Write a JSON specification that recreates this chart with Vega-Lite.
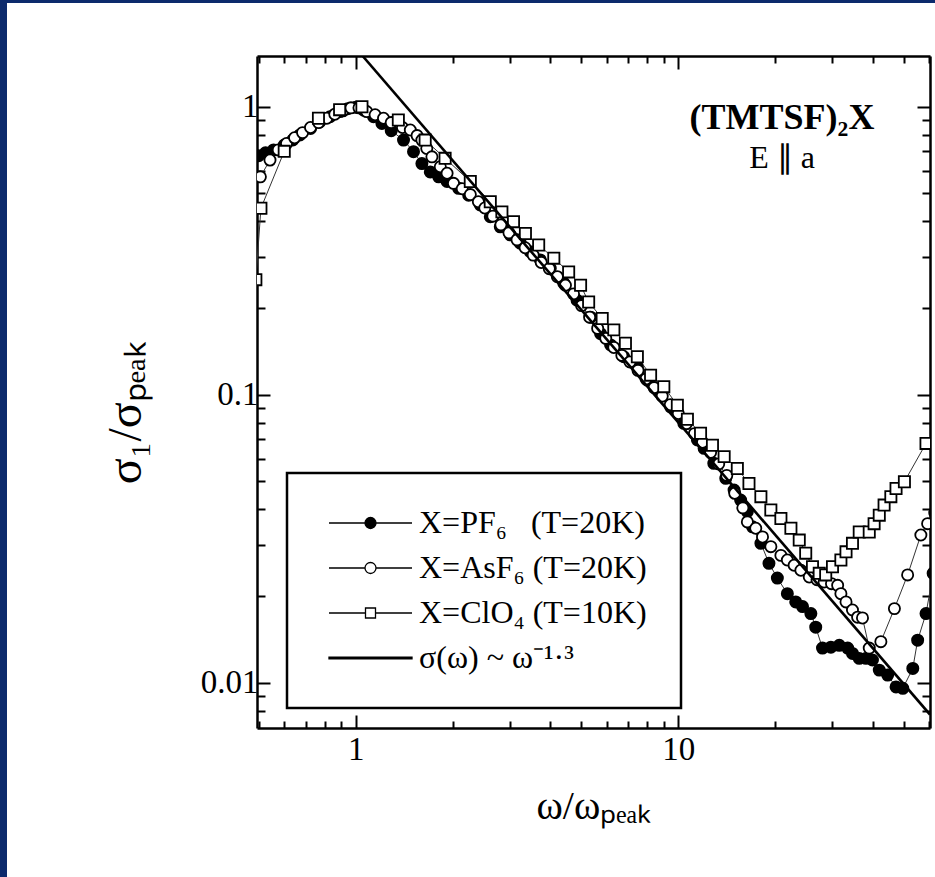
{
  "$schema": "https://vega.github.io/schema/vega-lite/v6.json",
  "width": 673,
  "height": 672,
  "autosize": {"type": "none"},
  "padding": {"left": 257, "top": 56, "right": 5, "bottom": 149},
  "background": "#0c2a6c",
  "config": {
    "view": {
      "fill": "white",
      "stroke": {"gradient": "linear", "x1": 0, "y1": -0.0833, "x2": 0, "y2": 1, "stops": [{"offset": 0, "color": "#0c2a6c"}, {"offset": 0.0041, "color": "#0c2a6c"}, {"offset": 0.0042, "color": "white"}, {"offset": 1, "color": "white"}]},
      "strokeWidth": 500
    },
    "font": "Liberation Serif",
    "legend": {"strokeWidth": 2.5}
  },
  "title": {
    "text": "(TMTSF)₂X",
    "subtitle": "E ∥ a",
    "anchor": "end",
    "align": "center",
    "dx": -148,
    "offset": -120,
    "font": "Liberation Serif",
    "fontSize": 36,
    "fontWeight": "bold",
    "color": "black",
    "subtitleFont": "Liberation Serif",
    "subtitleFontSize": 32,
    "subtitleColor": "black",
    "subtitlePadding": 6,
    "frame": "group"
  },
  "datasets": {
    "pts": [
      {"s": "PF6", "x": 0.5, "y": 0.676}, {"s": "PF6", "x": 0.525, "y": 0.692}, {"s": "PF6", "x": 0.556, "y": 0.708}, {"s": "PF6", "x": 0.6, "y": 0.736}, {"s": "PF6", "x": 0.638, "y": 0.767}, {"s": "PF6", "x": 0.671, "y": 0.798}, {"s": "PF6", "x": 0.724, "y": 0.841}, {"s": "PF6", "x": 0.774, "y": 0.887}, {"s": "PF6", "x": 0.832, "y": 0.923}, {"s": "PF6", "x": 0.893, "y": 0.962}, {"s": "PF6", "x": 0.944, "y": 0.984}, {"s": "PF6", "x": 1.0, "y": 0.995}, {"s": "PF6", "x": 1.059, "y": 0.973}, {"s": "PF6", "x": 1.135, "y": 0.923}, {"s": "PF6", "x": 1.205, "y": 0.875}, {"s": "PF6", "x": 1.288, "y": 0.826}, {"s": "PF6", "x": 1.406, "y": 0.766}, {"s": "PF6", "x": 1.51, "y": 0.698}, {"s": "PF6", "x": 1.603, "y": 0.635}, {"s": "PF6", "x": 1.702, "y": 0.594}, {"s": "PF6", "x": 1.807, "y": 0.571}, {"s": "PF6", "x": 1.919, "y": 0.55}, {"s": "PF6", "x": 2.084, "y": 0.521}, {"s": "PF6", "x": 2.239, "y": 0.493}, {"s": "PF6", "x": 2.432, "y": 0.456}, {"s": "PF6", "x": 2.612, "y": 0.415}, {"s": "PF6", "x": 2.805, "y": 0.383}, {"s": "PF6", "x": 3.013, "y": 0.359}, {"s": "PF6", "x": 3.236, "y": 0.336}, {"s": "PF6", "x": 3.475, "y": 0.314}, {"s": "PF6", "x": 3.733, "y": 0.294}, {"s": "PF6", "x": 4.009, "y": 0.275}, {"s": "PF6", "x": 4.416, "y": 0.244}, {"s": "PF6", "x": 4.853, "y": 0.213}, {"s": "PF6", "x": 5.346, "y": 0.186}, {"s": "PF6", "x": 5.741, "y": 0.163}, {"s": "PF6", "x": 6.166, "y": 0.149}, {"s": "PF6", "x": 6.776, "y": 0.1355}, {"s": "PF6", "x": 7.464, "y": 0.125}, {"s": "PF6", "x": 8.017, "y": 0.1125}, {"s": "PF6", "x": 8.81, "y": 0.1012}, {"s": "PF6", "x": 9.462, "y": 0.0908}, {"s": "PF6", "x": 10.4, "y": 0.0796}, {"s": "PF6", "x": 11.46, "y": 0.0697}, {"s": "PF6", "x": 12.02, "y": 0.0652}, {"s": "PF6", "x": 12.88, "y": 0.0578}, {"s": "PF6", "x": 14.03, "y": 0.0513}, {"s": "PF6", "x": 14.89, "y": 0.0467}, {"s": "PF6", "x": 15.6, "y": 0.0431}, {"s": "PF6", "x": 16.37, "y": 0.0393}, {"s": "PF6", "x": 16.98, "y": 0.0348}, {"s": "PF6", "x": 18.03, "y": 0.0305}, {"s": "PF6", "x": 19.1, "y": 0.026}, {"s": "PF6", "x": 20.28, "y": 0.0231}, {"s": "PF6", "x": 21.78, "y": 0.0204}, {"s": "PF6", "x": 23.12, "y": 0.0191}, {"s": "PF6", "x": 24.27, "y": 0.0184}, {"s": "PF6", "x": 25.76, "y": 0.0174}, {"s": "PF6", "x": 26.67, "y": 0.0156}, {"s": "PF6", "x": 27.99, "y": 0.0132}, {"s": "PF6", "x": 29.72, "y": 0.0133}, {"s": "PF6", "x": 31.55, "y": 0.0135}, {"s": "PF6", "x": 33.5, "y": 0.0132}, {"s": "PF6", "x": 34.67, "y": 0.01265}, {"s": "PF6", "x": 36.39, "y": 0.01216}, {"s": "PF6", "x": 38.19, "y": 0.01216}, {"s": "PF6", "x": 39.99, "y": 0.012}, {"s": "PF6", "x": 41.98, "y": 0.01107}, {"s": "PF6", "x": 44.57, "y": 0.01064}, {"s": "PF6", "x": 47.32, "y": 0.00968}, {"s": "PF6", "x": 49.66, "y": 0.00957}, {"s": "PF6", "x": 53.33, "y": 0.01122}, {"s": "PF6", "x": 55.21, "y": 0.01406}, {"s": "PF6", "x": 58.61, "y": 0.0174}, {"s": "PF6", "x": 61.66, "y": 0.024},
      {"s": "AsF6", "x": 0.506, "y": 0.571}, {"s": "AsF6", "x": 0.542, "y": 0.653}, {"s": "AsF6", "x": 0.575, "y": 0.708}, {"s": "AsF6", "x": 0.61, "y": 0.745}, {"s": "AsF6", "x": 0.646, "y": 0.78}, {"s": "AsF6", "x": 0.684, "y": 0.813}, {"s": "AsF6", "x": 0.724, "y": 0.847}, {"s": "AsF6", "x": 0.767, "y": 0.881}, {"s": "AsF6", "x": 0.813, "y": 0.912}, {"s": "AsF6", "x": 0.861, "y": 0.942}, {"s": "AsF6", "x": 0.912, "y": 0.968}, {"s": "AsF6", "x": 0.966, "y": 0.991}, {"s": "AsF6", "x": 1.023, "y": 0.991}, {"s": "AsF6", "x": 1.081, "y": 0.962}, {"s": "AsF6", "x": 1.148, "y": 0.938}, {"s": "AsF6", "x": 1.219, "y": 0.912}, {"s": "AsF6", "x": 1.288, "y": 0.881}, {"s": "AsF6", "x": 1.396, "y": 0.847}, {"s": "AsF6", "x": 1.476, "y": 0.83}, {"s": "AsF6", "x": 1.549, "y": 0.794}, {"s": "AsF6", "x": 1.603, "y": 0.766}, {"s": "AsF6", "x": 1.66, "y": 0.716}, {"s": "AsF6", "x": 1.722, "y": 0.67}, {"s": "AsF6", "x": 1.828, "y": 0.619}, {"s": "AsF6", "x": 1.919, "y": 0.5875}, {"s": "AsF6", "x": 2.009, "y": 0.542}, {"s": "AsF6", "x": 2.138, "y": 0.519}, {"s": "AsF6", "x": 2.265, "y": 0.4955}, {"s": "AsF6", "x": 2.399, "y": 0.468}, {"s": "AsF6", "x": 2.512, "y": 0.445}, {"s": "AsF6", "x": 2.661, "y": 0.417}, {"s": "AsF6", "x": 2.818, "y": 0.389}, {"s": "AsF6", "x": 2.985, "y": 0.365}, {"s": "AsF6", "x": 3.162, "y": 0.345}, {"s": "AsF6", "x": 3.35, "y": 0.324}, {"s": "AsF6", "x": 3.548, "y": 0.3055}, {"s": "AsF6", "x": 3.758, "y": 0.288}, {"s": "AsF6", "x": 3.981, "y": 0.274}, {"s": "AsF6", "x": 4.217, "y": 0.257}, {"s": "AsF6", "x": 4.467, "y": 0.24}, {"s": "AsF6", "x": 4.732, "y": 0.224}, {"s": "AsF6", "x": 5.012, "y": 0.204}, {"s": "AsF6", "x": 5.309, "y": 0.186}, {"s": "AsF6", "x": 5.623, "y": 0.17}, {"s": "AsF6", "x": 5.957, "y": 0.157}, {"s": "AsF6", "x": 6.31, "y": 0.146}, {"s": "AsF6", "x": 6.683, "y": 0.137}, {"s": "AsF6", "x": 7.079, "y": 0.13}, {"s": "AsF6", "x": 7.499, "y": 0.1216}, {"s": "AsF6", "x": 7.943, "y": 0.1135}, {"s": "AsF6", "x": 8.414, "y": 0.1059}, {"s": "AsF6", "x": 8.913, "y": 0.0989}, {"s": "AsF6", "x": 9.441, "y": 0.0923}, {"s": "AsF6", "x": 10.0, "y": 0.0861}, {"s": "AsF6", "x": 10.59, "y": 0.0794}, {"s": "AsF6", "x": 11.22, "y": 0.0733}, {"s": "AsF6", "x": 11.89, "y": 0.0684}, {"s": "AsF6", "x": 12.59, "y": 0.0631}, {"s": "AsF6", "x": 13.34, "y": 0.0575}, {"s": "AsF6", "x": 14.13, "y": 0.0525}, {"s": "AsF6", "x": 14.96, "y": 0.0455}, {"s": "AsF6", "x": 15.85, "y": 0.0405}, {"s": "AsF6", "x": 16.37, "y": 0.0362}, {"s": "AsF6", "x": 17.38, "y": 0.0344}, {"s": "AsF6", "x": 18.24, "y": 0.0321}, {"s": "AsF6", "x": 19.36, "y": 0.0297}, {"s": "AsF6", "x": 20.8, "y": 0.0277}, {"s": "AsF6", "x": 21.78, "y": 0.0267}, {"s": "AsF6", "x": 22.86, "y": 0.0256}, {"s": "AsF6", "x": 23.99, "y": 0.0246}, {"s": "AsF6", "x": 25.47, "y": 0.0233}, {"s": "AsF6", "x": 26.92, "y": 0.0228}, {"s": "AsF6", "x": 28.31, "y": 0.0224}, {"s": "AsF6", "x": 29.85, "y": 0.0221}, {"s": "AsF6", "x": 31.19, "y": 0.0218}, {"s": "AsF6", "x": 31.92, "y": 0.0204}, {"s": "AsF6", "x": 33.11, "y": 0.0191}, {"s": "AsF6", "x": 34.67, "y": 0.0179}, {"s": "AsF6", "x": 35.97, "y": 0.0169}, {"s": "AsF6", "x": 37.24, "y": 0.0168}, {"s": "AsF6", "x": 39.08, "y": 0.0132}, {"s": "AsF6", "x": 42.46, "y": 0.0139}, {"s": "AsF6", "x": 46.77, "y": 0.0181}, {"s": "AsF6", "x": 51.4, "y": 0.0237}, {"s": "AsF6", "x": 56.49, "y": 0.0326}, {"s": "AsF6", "x": 59.29, "y": 0.0357}, {"s": "AsF6", "x": 62.4, "y": 0.0389},
      {"s": "ClO4", "x": 0.49, "y": 0.251}, {"s": "ClO4", "x": 0.508, "y": 0.444}, {"s": "ClO4", "x": 0.6, "y": 0.7}, {"s": "ClO4", "x": 0.766, "y": 0.912}, {"s": "ClO4", "x": 0.891, "y": 0.977}, {"s": "ClO4", "x": 1.045, "y": 1.0}, {"s": "ClO4", "x": 1.355, "y": 0.899}, {"s": "ClO4", "x": 1.641, "y": 0.766}, {"s": "ClO4", "x": 1.892, "y": 0.662}, {"s": "ClO4", "x": 2.265, "y": 0.55}, {"s": "ClO4", "x": 2.612, "y": 0.468}, {"s": "ClO4", "x": 2.838, "y": 0.4315}, {"s": "ClO4", "x": 3.083, "y": 0.399}, {"s": "ClO4", "x": 3.357, "y": 0.363}, {"s": "ClO4", "x": 3.69, "y": 0.331}, {"s": "ClO4", "x": 4.111, "y": 0.298}, {"s": "ClO4", "x": 4.571, "y": 0.267}, {"s": "ClO4", "x": 4.977, "y": 0.24}, {"s": "ClO4", "x": 5.272, "y": 0.21}, {"s": "ClO4", "x": 5.808, "y": 0.184}, {"s": "ClO4", "x": 6.31, "y": 0.168}, {"s": "ClO4", "x": 6.855, "y": 0.151}, {"s": "ClO4", "x": 7.464, "y": 0.1355}, {"s": "ClO4", "x": 8.204, "y": 0.117}, {"s": "ClO4", "x": 9.016, "y": 0.1067}, {"s": "ClO4", "x": 9.931, "y": 0.092}, {"s": "ClO4", "x": 10.67, "y": 0.0822}, {"s": "ClO4", "x": 11.72, "y": 0.0735}, {"s": "ClO4", "x": 12.76, "y": 0.0668}, {"s": "ClO4", "x": 13.87, "y": 0.061}, {"s": "ClO4", "x": 15.24, "y": 0.0555}, {"s": "ClO4", "x": 16.56, "y": 0.0492}, {"s": "ClO4", "x": 18.03, "y": 0.0443}, {"s": "ClO4", "x": 19.36, "y": 0.0398}, {"s": "ClO4", "x": 20.8, "y": 0.0372}, {"s": "ClO4", "x": 22.34, "y": 0.0344}, {"s": "ClO4", "x": 23.71, "y": 0.0313}, {"s": "ClO4", "x": 24.83, "y": 0.0282}, {"s": "ClO4", "x": 26.06, "y": 0.0253}, {"s": "ClO4", "x": 27.35, "y": 0.024}, {"s": "ClO4", "x": 28.64, "y": 0.0237}, {"s": "ClO4", "x": 30.06, "y": 0.0253}, {"s": "ClO4", "x": 31.92, "y": 0.0267}, {"s": "ClO4", "x": 33.11, "y": 0.0285}, {"s": "ClO4", "x": 34.67, "y": 0.0305}, {"s": "ClO4", "x": 36.39, "y": 0.0334}, {"s": "ClO4", "x": 39.08, "y": 0.0334}, {"s": "ClO4", "x": 40.46, "y": 0.0357}, {"s": "ClO4", "x": 41.98, "y": 0.0382}, {"s": "ClO4", "x": 43.45, "y": 0.0414}, {"s": "ClO4", "x": 45.6, "y": 0.0443}, {"s": "ClO4", "x": 47.32, "y": 0.0473}, {"s": "ClO4", "x": 50.23, "y": 0.0499}, {"s": "ClO4", "x": 58.61, "y": 0.0678}, {"s": "ClO4", "x": 63.1, "y": 0.0759}
    ],
    "fit": [
      {"x": 1.05, "y": 1.5},
      {"x": 60.3, "y": 0.00776}
    ]
  },
  "layer": [
    {
      "data": {"name": "pts"},
      "encoding": {
        "x": {
          "field": "x", "type": "quantitative",
          "scale": {"type": "log", "domain": [0.494, 60.3], "nice": false},
          "axis": {
            "orient": "bottom",
            "values": [0.5, 0.6, 0.7, 0.8, 0.9, 1, 2, 3, 4, 5, 6, 7, 8, 9, 10, 20, 30, 40, 50, 60],
            "labelExpr": "datum.value === 1 ? '1' : datum.value === 10 ? '10' : ''",
            "tickSize": {"condition": {"test": "datum.value === 1 || datum.value === 10", "value": -13}, "value": -7},
            "tickWidth": 2, "tickColor": "black",
            "domainColor": "black", "domainWidth": 2.5,
            "labelFont": "Liberation Serif", "labelFontSize": 33, "labelColor": "black",
            "labelPadding": 18, "labelOverlap": false, "labelFlush": false, "labelBound": false,
            "grid": false,
            "title": "ω/ωₚₑₐₖ",
            "titleFont": "Liberation Serif", "titleFontSize": 40, "titleFontWeight": "normal", "titleColor": "black",
            "titleBaseline": "alphabetic", "titleY": 90
          }
        },
        "y": {
          "field": "y", "type": "quantitative",
          "scale": {"type": "log", "domain": [0.00697, 1.5], "nice": false},
          "axis": {
            "orient": "left",
            "values": [0.008, 0.009, 0.01, 0.02, 0.03, 0.04, 0.05, 0.06, 0.07, 0.08, 0.09, 0.1, 0.2, 0.3, 0.4, 0.5, 0.6, 0.7, 0.8, 0.9, 1],
            "labelExpr": "datum.value === 1 ? '1' : datum.value === 0.1 ? '0.1' : datum.value === 0.01 ? '0.01' : ''",
            "tickSize": {"condition": {"test": "datum.value === 1 || datum.value === 0.1 || datum.value === 0.01", "value": -13}, "value": -8},
            "tickWidth": 2, "tickColor": "black",
            "domainColor": "black", "domainWidth": 2.5,
            "labelFont": "Liberation Serif", "labelFontSize": 33, "labelColor": "black",
            "labelPadding": 12, "labelOverlap": false, "labelFlush": false, "labelBound": false,
            "grid": false,
            "title": "σ₁/σₚₑₐₖ",
            "titleFont": "Liberation Serif", "titleFontSize": 48, "titleFontWeight": "normal", "titleColor": "black",
            "titleBaseline": "alphabetic", "titleAngle": -90, "titleX": -117, "titleY": 356
          }
        }
      },
      "layer": [
        {
          "mark": {"type": "line", "stroke": "#333333", "strokeWidth": 1, "clip": true},
          "encoding": {"detail": {"field": "s", "type": "nominal"}}
        },
        {
          "mark": {"type": "point", "filled": true, "stroke": "black", "strokeWidth": 1.8, "opacity": 1, "clip": true},
          "encoding": {
            "shape": {"field": "s", "type": "nominal", "scale": {"domain": ["PF6", "AsF6", "ClO4"], "range": ["circle", "circle", "square"]}, "legend": null},
            "fill": {"field": "s", "type": "nominal", "scale": {"domain": ["PF6", "AsF6", "ClO4"], "range": ["black", "white", "white"]}, "legend": null},
            "size": {"field": "s", "type": "nominal", "scale": {"domain": ["PF6", "AsF6", "ClO4"], "range": [125, 125, 150]}, "legend": null}
          }
        }
      ]
    },
    {
      "data": {"name": "fit"},
      "mark": {"type": "line", "stroke": "black", "strokeWidth": 2.6, "clip": true},
      "encoding": {
        "x": {
          "field": "x", "type": "quantitative",
          "scale": {"type": "log", "domain": [0.494, 60.3], "nice": false},
          "axis": {
            "orient": "top",
            "values": [0.5, 0.6, 0.7, 0.8, 0.9, 1, 2, 3, 4, 5, 6, 7, 8, 9, 10, 20, 30, 40, 50, 60],
            "labels": false, "title": null, "grid": false,
            "tickSize": {"condition": {"test": "datum.value === 1 || datum.value === 10", "value": -13}, "value": -7},
            "tickWidth": 2, "tickColor": "black",
            "domainColor": "black", "domainWidth": 2.5
          }
        },
        "y": {
          "field": "y", "type": "quantitative",
          "scale": {"type": "log", "domain": [0.00697, 1.5], "nice": false},
          "axis": {
            "orient": "right",
            "values": [0.008, 0.009, 0.01, 0.02, 0.03, 0.04, 0.05, 0.06, 0.07, 0.08, 0.09, 0.1, 0.2, 0.3, 0.4, 0.5, 0.6, 0.7, 0.8, 0.9, 1],
            "labels": false, "title": null, "grid": false,
            "tickSize": {"condition": {"test": "datum.value === 1 || datum.value === 0.1 || datum.value === 0.01", "value": -13}, "value": -8},
            "tickWidth": 2, "tickColor": "black",
            "domainColor": "black", "domainWidth": 2.5
          }
        }
      }
    },
    {
      "data": {"values": []},
      "mark": {"type": "point", "filled": true, "stroke": "black", "strokeWidth": 1.3, "opacity": 1},
      "encoding": {
        "x": {"field": "x", "type": "quantitative", "scale": {"type": "log", "domain": [0.494, 60.3], "nice": false}, "axis": null},
        "y": {"field": "y", "type": "quantitative", "scale": {"type": "log", "domain": [0.00697, 1.5], "nice": false}, "axis": null},
        "shape": {
          "field": "entry", "type": "nominal",
          "scale": {
            "domain": ["X=PF₆\u00a0\u00a0\u00a0(T=20K)", "X=AsF₆ (T=20K)", "X=ClO₄ (T=10K)", "σ(ω) ~ ω⁻¹·³"],
            "range": [
              "M0,0H7.2M9.4,0H16.6M7.2,0A1.1,1.1,0,1,0,9.4,0A1.1,1.1,0,1,0,7.2,0Z",
              "M0,0H7.2M9.4,0H16.6M7.2,0A1.1,1.1,0,1,0,9.4,0A1.1,1.1,0,1,0,7.2,0Z",
              "M0,0H7.3M9.3,0H16.6M7.3,-1H9.3V1H7.3Z",
              "M0,-0.15H16.6V0.15H0Z"
            ]
          },
          "legend": {
            "orient": "none", "legendX": 30, "legendY": 417, "title": null,
            "strokeColor": "black", "fillColor": "white", "padding": 34,
            "labelFont": "Liberation Serif", "labelFontSize": 32, "labelColor": "black", "labelLimit": 400,
            "symbolSize": 100, "symbolStrokeColor": "black", "symbolStrokeWidth": 1.3, "symbolOpacity": 1,
            "symbolOffset": -8, "labelOffset": 74, "rowPadding": 13,
            "encode": {"symbols": {"update": {"stroke": {"value": "black"}, "strokeWidth": {"value": 1.3}}}}
          }
        },
        "fill": {
          "field": "entry", "type": "nominal",
          "scale": {
            "domain": ["X=PF₆\u00a0\u00a0\u00a0(T=20K)", "X=AsF₆ (T=20K)", "X=ClO₄ (T=10K)", "σ(ω) ~ ω⁻¹·³"],
            "range": ["black", "white", "white", "black"]
          },
          "legend": {
            "orient": "none", "legendX": 30, "legendY": 417, "title": null,
            "strokeColor": "black", "fillColor": "white", "padding": 34,
            "labelFont": "Liberation Serif", "labelFontSize": 32, "labelColor": "black", "labelLimit": 400,
            "symbolSize": 100, "symbolStrokeColor": "black", "symbolStrokeWidth": 1.3, "symbolOpacity": 1,
            "symbolOffset": -8, "labelOffset": 74, "rowPadding": 13,
            "encode": {"symbols": {"update": {"stroke": {"value": "black"}, "strokeWidth": {"value": 1.3}}}}
          }
        }
      }
    }
  ],
  "resolve": {"scale": {"x": "independent", "y": "independent", "shape": "independent", "fill": "independent"}}
}
